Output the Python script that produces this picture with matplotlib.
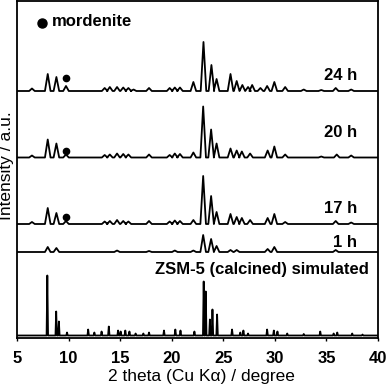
import matplotlib
matplotlib.use("Agg")
import matplotlib.pyplot as plt
import numpy as np

plt.rcParams['font.family'] = ['Liberation Sans', 'DejaVu Sans']

# ---- data (2theta in degrees, intensities in arbitrary units) ----
labels = ["24 h", "20 h", "17 h", "1 h", "ZSM-5 (calcined) simulated"]

pk_24h = [6.45, 7.98, 8.82, 9.75, 13.5, 14.0, 14.7, 15.3, 15.8, 16.3, 17.8, 19.8, 20.3, 20.8,
          22.1, 23.08, 23.85, 24.35, 25.7, 26.3, 26.85, 27.4, 27.8, 28.6, 29.25, 29.95, 31.0,
          32.8, 34.5, 35.9, 37.4]
in_24h = [2.5, 17, 14, 5, 3, 4, 4, 3.5, 3, 1.5, 3, 3, 3.5, 3.5,
          9, 49, 26, 12, 17, 10, 6, 4, 6, 3, 5, 9, 4,
          1.5, 1, 3, 1.5]

pk_20h = [6.45, 7.98, 8.82, 9.75, 13.5, 14.0, 14.7, 15.3, 15.8, 17.8, 19.8, 20.3, 20.8, 22.1,
          23.05, 23.82, 24.35, 25.7, 26.3, 26.8, 27.6, 29.3, 29.95, 31.0, 34.5, 36.0, 37.4]
in_20h = [2, 18, 14, 3, 2.5, 3, 4, 3.5, 3, 3, 2.5, 4, 3.5, 5,
          51, 28, 14, 9, 7, 6, 4, 7, 11, 3, 1, 3, 2]

pk_17h = [6.45, 7.98, 8.82, 9.75, 13.5, 14.0, 14.7, 15.3, 15.8, 17.8, 19.8, 20.3, 20.8, 22.1,
          23.05, 23.82, 24.35, 25.7, 26.3, 26.8, 27.6, 29.3, 29.95, 31.0, 35.9, 37.4]
in_17h = [2, 16, 11, 3, 2.5, 3, 4, 3, 2.5, 3, 2.5, 3.5, 3, 4,
          48, 28, 12, 10, 7, 6, 4, 6, 10, 2, 3, 1.5]

pk_1h = [7.98, 8.82, 14.7, 17.8, 20.3, 22.1, 23.05, 23.82, 24.35, 25.7, 26.3, 29.3, 29.95, 35.9]
in_1h = [5, 4, 1.5, 1, 1.5, 1.5, 17, 13, 6, 2, 2, 3, 5, 2]

pk_sim = [7.94, 8.80, 9.06, 9.85, 11.9, 12.5, 13.2, 13.9, 14.8, 15.05, 15.5, 15.9, 16.5, 17.25,
          17.8, 19.25, 20.35, 20.85, 22.2, 23.1, 23.3, 23.7, 23.95, 24.4, 25.85, 26.65, 26.95,
          27.4, 29.25, 29.9, 30.25, 31.2, 32.8, 34.4, 35.7, 36.05, 37.5, 38.5]
in_sim = [60, 24, 14, 3, 6, 3, 4, 9, 5, 4, 5, 4, 2, 2,
          3, 5, 6, 5, 4, 54, 44, 16, 26, 21, 6, 3, 5,
          2, 6, 5, 4, 2, 1.5, 4, 2, 3, 2, 1]

mordenite_pos = 9.75
mordenite_dot_above = [13, 7, 7]   # above baseline for 24 h, 20 h, 17 h

xticks = [5, 10, 15, 20, 25, 30, 35, 40]

# ---- layout / style ----
offsets = [247, 180.5, 114, 86, 2.5]
halfw = [0.27, 0.27, 0.27, 0.27, 0.07]
label_y = [258, 201.3, 125.3, 90.7, 64]
label_x = [38.0, 38.0, 38.0, 38.0, 39.15]


def profile(pos, inten, w):
    order = np.argsort(pos)
    xs, ys = [5.0], [0.0]
    for i in order:
        p, h = pos[i], inten[i]
        xs += [p - w, p, p + w]
        ys += [0.0, h, 0.0]
    xs.append(40.0)
    ys.append(0.0)
    return np.array(xs), np.array(ys)


fig = plt.figure(figsize=(3.87, 3.86), dpi=100)
ax = fig.add_axes([17 / 387, 48 / 386, 361 / 387, 337 / 386])

series = [(pk_24h, in_24h), (pk_20h, in_20h), (pk_17h, in_17h), (pk_1h, in_1h), (pk_sim, in_sim)]
for k, (p, i) in enumerate(series):
    x, y = profile(p, i, halfw[k])
    ax.plot(x, y + offsets[k], color='black', lw=1.3, solid_joinstyle='round')
    ax.text(label_x[k], label_y[k], labels[k], ha='right', va='baseline',
            fontsize=12, fontweight='bold')

for k in range(3):
    ax.plot([mordenite_pos], [offsets[k] + mordenite_dot_above[k]], 'o', color='black', ms=4.5)

ax.plot([7.4], [315.3], 'o', color='black', ms=6.5)
ax.text(8.35, 312, "mordenite", ha='left', va='baseline', fontsize=12, fontweight='bold')

ax.set_xlim(5, 40)
ax.set_ylim(0, 337)
ax.set_xticks(xticks)
ax.set_xticklabels([str(t) for t in xticks], fontsize=12, fontweight='bold')
ax.set_yticks([])
ax.tick_params(axis='x', direction='out', length=2.5, width=1.0, pad=7)
for s in ax.spines.values():
    s.set_linewidth(1.3)

fig.text(7 / 387, 1 - 166 / 386, "Intensity / a.u.", rotation=90, ha='center', va='center',
         fontsize=12.5)
fig.text(201 / 387, 1 - 377 / 386, "2 theta (Cu Kα) / degree", ha='center', va='center',
         fontsize=12.5)

fig.savefig("out.png", dpi=100)
